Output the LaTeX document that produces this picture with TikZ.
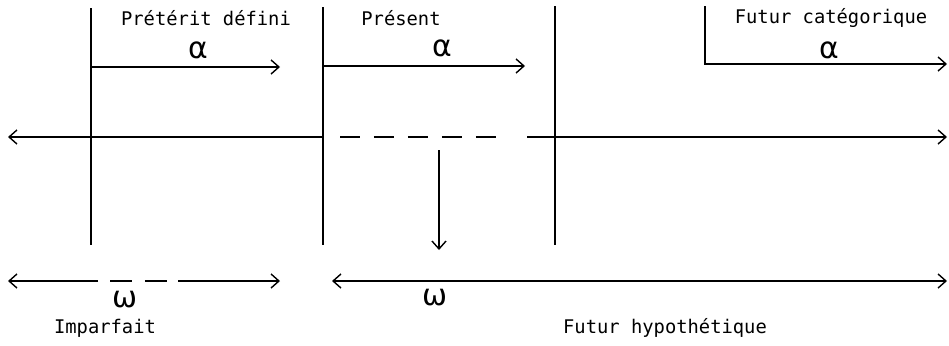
\documentclass[tikz,border=0pt]{standalone}
\usepackage{fontspec}
\setmonofont{DejaVu Sans Mono}
\newfontfamily\greekfont{DejaVu Sans}
\usetikzlibrary{arrows.meta}
\begin{document}
\begin{tikzpicture}[x=0.02cm,y=-0.02cm,
  line/.style={line width=0.8pt},
  arr/.style={line, -{Straight Barb[length=4.5pt,width=8pt]}},
  darr/.style={line, {Straight Barb[length=4.5pt,width=8pt]}-{Straight Barb[length=4.5pt,width=8pt]}},
  lbl/.style={font=\ttfamily\fontsize{10.7}{12}\selectfont, inner sep=0pt},
  sym/.style={font=\greekfont\fontsize{17}{18}\selectfont, inner sep=0pt}]
\useasboundingbox (0,0) rectangle (949,345);
% coordinates
\coordinate (v1t) at (91,8);   \coordinate (v1b) at (91,245);
\coordinate (v2t) at (323,7);  \coordinate (v2b) at (323,245);
\coordinate (v3t) at (555,6);  \coordinate (v3b) at (555,245);
\coordinate (v4t) at (705,6);  \coordinate (v4b) at (705,64);
\coordinate (a1s) at (91,67);  \coordinate (a1e) at (280,67);
\coordinate (a2s) at (323,66); \coordinate (a2e) at (525,66);
\coordinate (a3e) at (947,64);
\coordinate (m1s) at (323,137); \coordinate (m1e) at (8,137);
\coordinate (mds) at (340,137); \coordinate (mde) at (506,137);
\coordinate (m2s) at (527,137); \coordinate (m2e) at (947,137);
\coordinate (dns) at (439,150); \coordinate (dne) at (439,250);
\coordinate (b1s) at (98,281);  \coordinate (b1e) at (8,281);
\coordinate (bds) at (110,281); \coordinate (bde) at (167,281);
\coordinate (b2s) at (178,281); \coordinate (b2e) at (280,281);
\coordinate (b3s) at (332,281); \coordinate (b3e) at (947,281);
% vertical lines
\draw[line] (v1t) -- (v1b);
\draw[line] (v2t) -- (v2b);
\draw[line] (v3t) -- (v3b);
% alpha arrows
\draw[arr] (a1s) -- (a1e);
\draw[arr] (a2s) -- (a2e);
\draw[arr] (v4t) -- (v4b) -- (a3e);
% main line
\draw[arr] (m1s) -- (m1e);
\draw[line, dash pattern=on 0.4cm off 0.28cm] (mds) -- (mde);
\draw[arr] (m2s) -- (m2e);
\draw[arr] (dns) -- (dne);
% bottom lines
\draw[arr] (b1s) -- (b1e);
\draw[line, dash pattern=on 0.44cm off 0.26cm] (bds) -- (bde);
\draw[arr] (b2s) -- (b2e);
\draw[darr] (b3s) -- (b3e);
% labels
\node[lbl] (pd) at (206,18) {Prétérit défini};
\node[lbl] (pr) at (401,18) {Présent};
\node[lbl] (fc) at (831,18) {Futur catégorique};
\node[sym] (al1) at (198,50) {α};
\node[sym] (al2) at (442,48) {α};
\node[sym] (al3) at (829,50) {α};
\node[sym] (om1) at (125,300) {ω};
\node[sym] (om2) at (435,298) {ω};
\node[lbl] (imp) at (105,328) {Imparfait};
\node[lbl] (fh) at (665,328) {Futur hypothétique};
\end{tikzpicture}
\end{document}
